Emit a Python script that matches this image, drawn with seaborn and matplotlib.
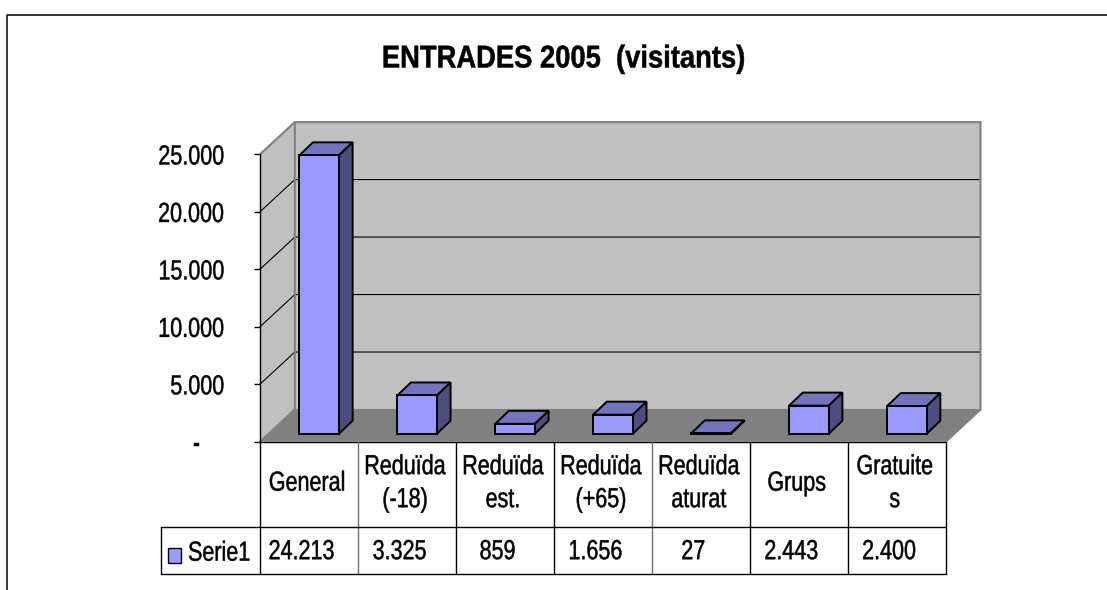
import matplotlib
matplotlib.use('Agg')
import matplotlib.pyplot as plt
from matplotlib.lines import Line2D
from matplotlib.patheffects import AbstractPathEffect
from matplotlib.transforms import Affine2D, blended_transform_factory, offset_copy
import pandas as pd
import seaborn as sns

# data
categories = ['General', 'Reduïda\n(-18)', 'Reduïda\nest.', 'Reduïda\n(+65)',
              'Reduïda\naturat', 'Grups', 'Gratuite\ns']
values = [24213, 3325, 859, 1656, 27, 2443, 2400]
value_labels = ['24.213', '3.325', '859', '1.656', '27', '2.443', '2.400']
y_ticks = [0, 5000, 10000, 15000, 20000, 25000]
y_tick_labels = ['-', '5.000', '10.000', '15.000', '20.000', '25.000']
series_name = 'Serie1'
title = 'ENTRADES 2005  (visitants)'

W, H = 1107, 590
FS = 15.5

sns.set_theme(style='white')
plt.rcParams['font.family'] = ['Liberation Sans']


# the original type is taller and a bit heavier than Liberation at the same width
class Tall(AbstractPathEffect):
    def __init__(self, k, stroke=0.35):
        super().__init__()
        self.k = k
        self.stroke = stroke

    def draw_path(self, renderer, gc, tpath, affine, rgbFace=None):
        shift = -71.6 * (self.k - 1) / 2
        gc0 = renderer.new_gc()
        gc0.copy_properties(gc)
        gc0.set_linewidth(self.stroke)
        gc0.set_foreground(rgbFace)
        renderer.draw_path(gc0, tpath, Affine2D().scale(1, self.k).translate(0, shift) + affine, rgbFace)
        gc0.restore()


tall = [Tall(1.28)]

# layout, pixels
left, right, top, bottom = 260, 945.7, 154.3, 441.7
row1, row2 = 527.3, 574
legend_left = 161.3
bar_shift_x, bar_shift_y = 10.2, 8
wall_dx, wall_dy = 34.8, 32.2
bar_dx, bar_dy = 13.6, 13

fig = plt.figure(figsize=(W / 100, H / 100), dpi=100, facecolor='white')


def axes_rect(dx=0, dy=0):
    return [(left + dx) / W, (H - bottom + dy) / H, (right - left) / W, (bottom - top) / H]


ax = fig.add_axes(axes_rect())
ax.patch.set_visible(False)
ax.set_xlim(-0.5, 6.5)
ax.set_ylim(0, 25000)
x_per_px = 7 / (right - left)
y_per_px = 25000 / (bottom - top)
wx, wy = wall_dx * x_per_px, wall_dy * y_per_px
x0, x1 = -0.5, 6.5
y_max = y_ticks[-1]

# walls and floor
ax.fill([x0, x0 + wx, x0 + wx, x0], [0, wy, y_max + wy, y_max], color='#C0C0C0', lw=0, clip_on=False, zorder=1)
ax.fill([x0 + wx, x1 + wx, x1 + wx, x0 + wx], [wy, wy, y_max + wy, y_max + wy], color='#C0C0C0', lw=0, clip_on=False, zorder=1)
ax.fill([x0, x1, x1 + wx, x0 + wx], [0, 0, wy, wy], color='#808080', lw=0, clip_on=False, zorder=1)

# gridlines run along the side wall then the back wall
for t in y_ticks[1:-1]:
    ax.plot([x0, x0 + wx, x1 + wx], [t, t + wy, t + wy], color='black', lw=0.8, clip_on=False, zorder=2)

# grey wall edges
edge = dict(color='#808080', lw=1.5, clip_on=False, zorder=2, solid_joinstyle='miter')
ax.plot([x0, x0 + wx, x1 + wx, x1 + wx, x1], [y_max, y_max + wy, y_max + wy, wy, 0], **edge)
ax.plot([x0 + wx, x0 + wx, x0], [y_max + wy, wy, 0], **edge)
ax.plot([x0 + wx, x1 + wx], [wy, wy], **edge)

ax.set_yticks(y_ticks)
ax.set_yticklabels(y_tick_labels, fontsize=FS, color='black')
ax.set_xticks([])
ax.tick_params(axis='y', left=True, length=4, width=1, color='black', pad=21.5)
ax.yaxis.get_major_ticks()[0].set_pad(39)
for lab in ax.get_yticklabels():
    lab.set_path_effects(tall)
for s in ['top', 'right']:
    ax.spines[s].set_visible(False)
for s in ['left', 'bottom']:
    ax.spines[s].set_color('black')
    ax.spines[s].set_linewidth(1)

# bars sit a little way into the floor
ax2 = fig.add_axes(axes_rect(bar_shift_x, bar_shift_y))
ax2.patch.set_visible(False)
df = pd.DataFrame({'cat': categories, 'val': values})
sns.barplot(data=df, x='cat', y='val', color='#9999FF', saturation=1, width=0.405,
            edgecolor='black', linewidth=1.4, ax=ax2, zorder=5)
ax2.set_xlim(-0.5, 6.5)
ax2.set_ylim(0, 25000)
ax2.axis('off')
bx, by = bar_dx * x_per_px, bar_dy * y_per_px
for p in ax2.patches:
    a, w, h = p.get_x(), p.get_width(), p.get_height()
    p.set_clip_on(False)
    ax2.fill([a, a + bx, a + w + bx, a + w], [h, h + by, h + by, h], facecolor='#7373BF',
             edgecolor='black', lw=1.4, clip_on=False, zorder=4)
    ax2.fill([a + w, a + w + bx, a + w + bx, a + w], [0, by, h + by, h], facecolor='#4D4D80',
             edgecolor='black', lw=1.4, clip_on=False, zorder=4)

# data table under the plot
tf = blended_transform_factory(ax.transData, fig.transFigure)


def fy(px):
    return 1 - px / H


for i in range(8):
    xpos = i - 0.5
    col = '#707070' if i in (1, 4) else 'black'
    ax.plot([xpos, xpos], [fy(bottom), fy(row2)], transform=tf, color=col, lw=1, clip_on=False, zorder=3)
fig.add_artist(Line2D([legend_left / W, right / W], [fy(row1)] * 2, color='black', lw=1))
fig.add_artist(Line2D([legend_left / W, right / W], [fy(row2)] * 2, color='black', lw=1))
fig.add_artist(Line2D([legend_left / W] * 2, [fy(row1), fy(row2)], color='black', lw=1))

value_tf = offset_copy(tf, fig=fig, x=-7.5 * 0.72, units='points')
head_tf = offset_copy(tf, fig=fig, x=-2 * 0.72, units='points')
for i, (c, v) in enumerate(zip(categories, value_labels)):
    ax.text(i, fy(483), c, transform=head_tf, ha='center', va='center', fontsize=FS,
            linespacing=1.75, color='black', clip_on=False, path_effects=tall)
    ax.text(i, fy(551.5), v, transform=value_tf, ha='center', va='center', fontsize=FS,
            color='black', clip_on=False, path_effects=tall)

# legend key and name inside the first table cell
fig.patches.append(plt.Rectangle((168 / W, fy(563)), 12.5 / W, 15 / H, transform=fig.transFigure,
                                 facecolor='#9999FF', edgecolor='black', lw=1))
fig.text(188 / W, fy(553), series_name, fontsize=FS, ha='left', va='center', color='black', path_effects=tall)

fig.text(564 / W, fy(59), title, fontsize=19.7, fontweight='bold', ha='center', va='center', color='black',
         path_effects=[Tall(1.15)])

# chart frame is cut off by the right and bottom of the picture
fig.add_artist(Line2D([6.5 / W, 6.5 / W, 1], [0, fy(14.5), fy(14.5)], color='black', lw=1.1))

fig.savefig('out.png', dpi=100)
